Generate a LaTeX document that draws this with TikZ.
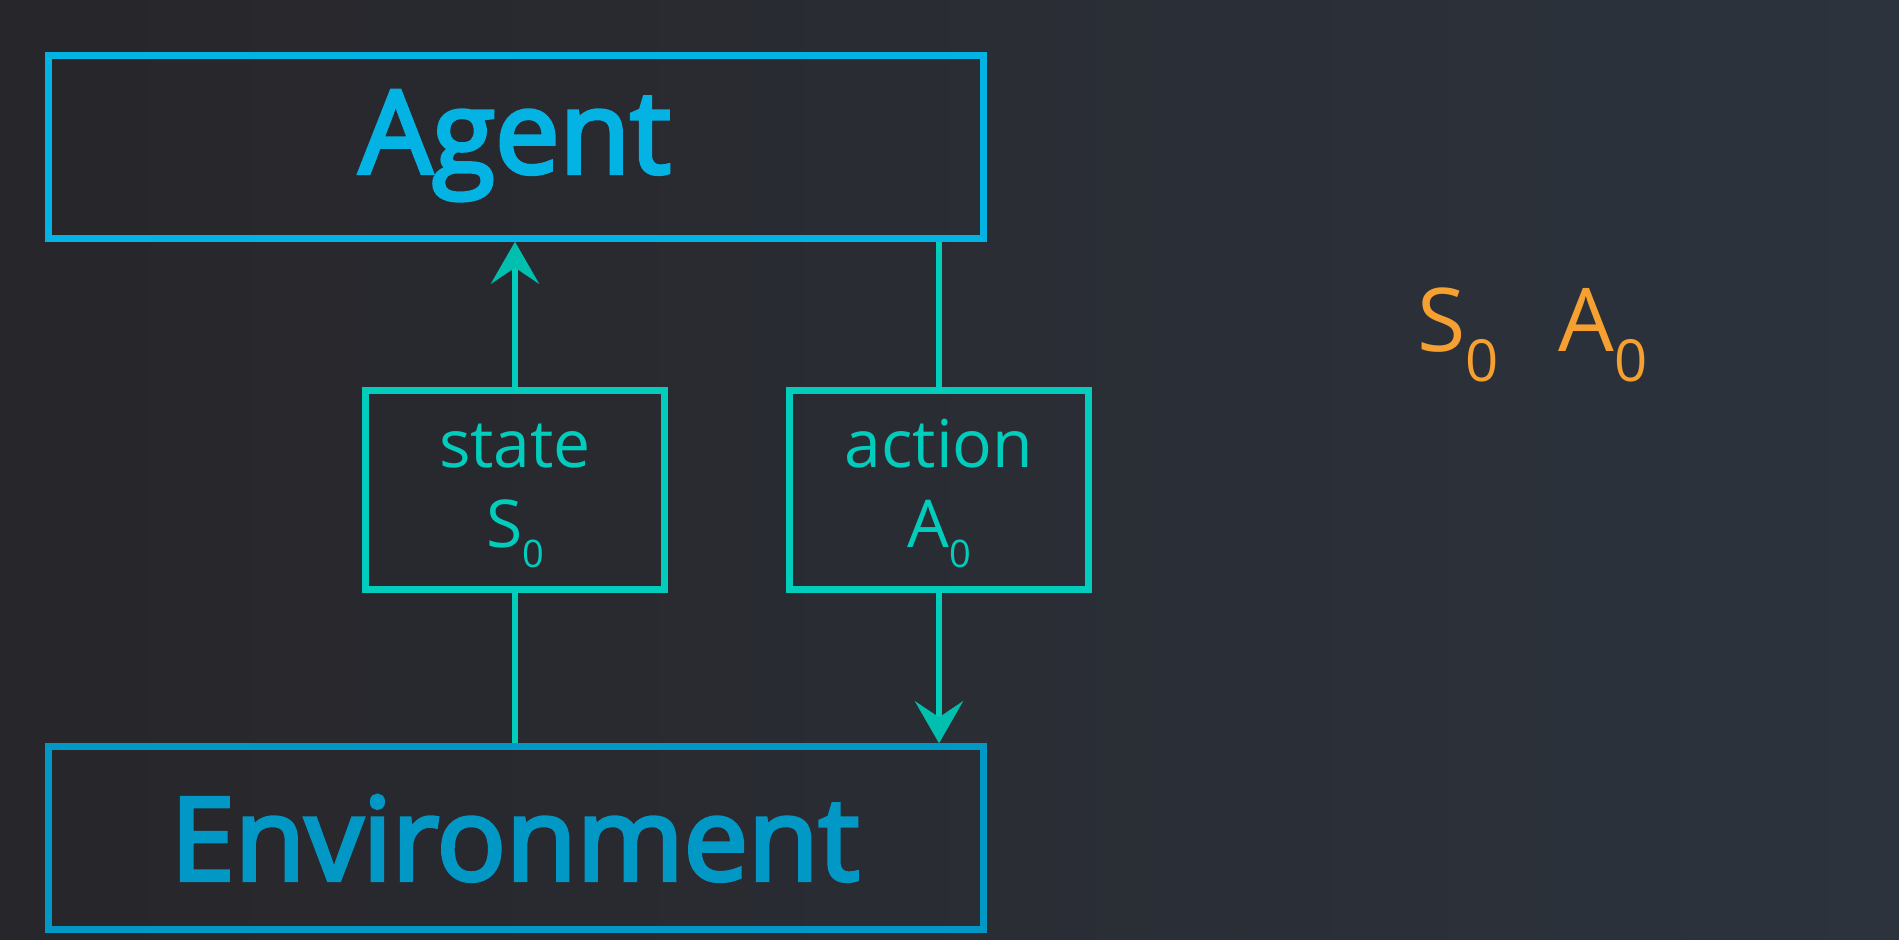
\documentclass[tikz,border=0pt]{standalone}
\usepackage{fontspec}
\setmainfont{Open Sans}
\newfontfamily\headfont{Open Sans}[FakeBold=3.5]
\usetikzlibrary{arrows.meta,calc}
\definecolor{agentblue}{HTML}{02B3E4}
\definecolor{envblue}{HTML}{0298C6}
\definecolor{teal}{HTML}{02CCBB}
\definecolor{tealtip}{HTML}{01BFAE}
\definecolor{orng}{HTML}{F5A030}
\definecolor{bgl}{HTML}{27262A}
\definecolor{bgr}{HTML}{2C333D}
\newcommand\mysub[2]{\raisebox{-#2}{\fontsize{#1}{#1}\selectfont 0}}
\begin{document}
\begin{tikzpicture}[x=0.5pt,y=-0.5pt,
  bigbox/.style={draw, rectangle, line width=3.2pt, inner sep=0pt,
    minimum width=467.5pt, minimum height=91.5pt},
  smallbox/.style={draw=teal, rectangle, line width=3.2pt, inner sep=0pt,
    minimum width=149.5pt, minimum height=99.5pt},
  bigtxt/.style={font=\headfont\fontsize{57.5pt}{60pt}\selectfont, anchor=base, inner sep=0pt},
  lbl/.style={text=teal, font=\fontsize{33pt}{36pt}\selectfont, anchor=base, inner sep=0pt},
  otxt/.style={text=orng, font=\fontsize{44pt}{48pt}\selectfont, anchor=base west, inner sep=0pt},
  conn/.style={draw=teal, line width=3.1pt},
  tip/.style={-{Stealth[length=21pt,width=24pt,inset=8pt,color=tealtip]}}
]
\useasboundingbox (0,0) rectangle (1899,940);
\shade[left color=bgl, right color=bgr] (0,0) rectangle (1899,940);

\node[bigbox, draw=agentblue] (agent) at (516,147) {};
\node[bigbox, draw=envblue] (env) at (516,838) {};
\node[smallbox] (state) at (515,490) {};
\node[smallbox] (action) at (939,490) {};

\node[bigtxt, text=agentblue] (agenttxt) at (515,173) {Agent};
\node[bigtxt, text=envblue] (envtxt) at (515,880) {Environment};

\node[lbl] (statetxt) at (515,468) {state};
\node[lbl] (stxt) at (515,547) {S\mysub{19pt}{10pt}};
\node[lbl] (actiontxt) at (939,468) {action};
\node[lbl] (atxt) at (939,547) {A\mysub{19pt}{10pt}};

\node[otxt] (s0) at (1417,352) {S\mysub{29pt}{15pt}};
\node[otxt] (a0) at (1558,352) {A\mysub{29pt}{15pt}};

\draw[conn] (state.south) -- (state.south |- env.north);
\draw[conn, tip] (state.north) -- (state.north |- agent.south);
\draw[conn] (action.north) -- (action.north |- agent.south);
\draw[conn, tip] (action.south) -- (action.south |- env.north);
\end{tikzpicture}
\end{document}
